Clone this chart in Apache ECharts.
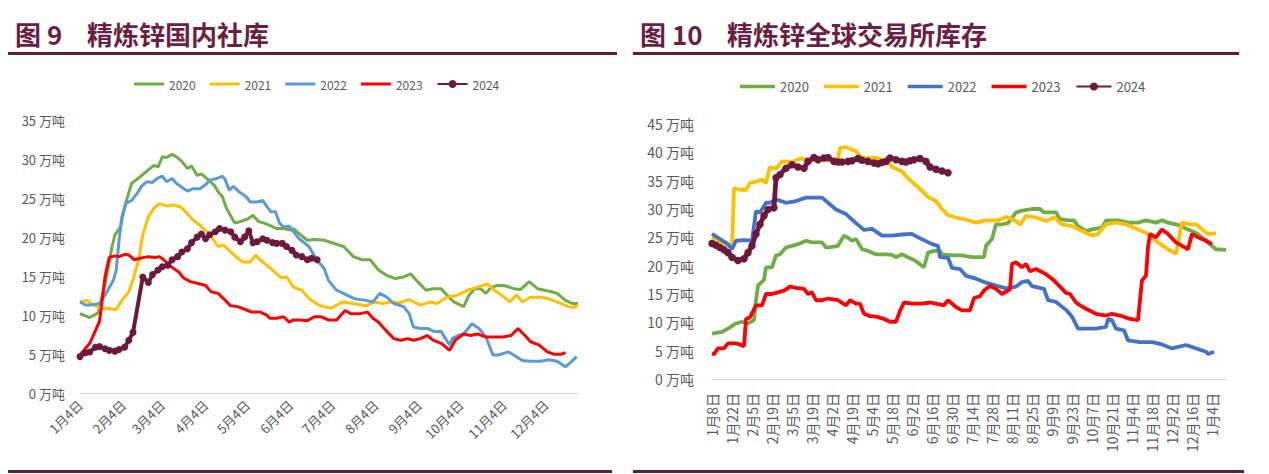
<!DOCTYPE html>
<html>
<head>
<meta charset="utf-8">
<script src="https://cdn.jsdelivr.net/npm/echarts@6/dist/echarts.min.js"></script>
<style>
html,body{margin:0;padding:0;background:#fff;}
#c1{position:absolute;left:0;top:0;width:632px;height:474px;}
#c2{position:absolute;left:632px;top:0;width:637px;height:474px;}
</style>
</head>
<body>
<div id="c1"></div>
<div id="c2"></div>
<script>
// ---------- Figure 9: domestic social inventory (万吨), x = days after 1月4日 ----------
const socTickLabels = ['1月4日','2月4日','3月4日','4月4日','5月4日','6月4日','7月4日','8月4日','9月4日','10月4日','11月4日','12月4日'];
const socLastDay = 357; // 12月27日
const soc2020 = [[0,10.2],[7,9.7],[13,10.3],[19,14.9],[23,18.8],[25,20.3],[29,21.3],[32,23.9],[37,26.9],[43,27.7],[49,28.6],[53,29.2],[56,29.0],[59,30.3],[62,30.2],[66,30.6],[69,30.3],[73,29.7],[77,28.8],[80,29.1],[84,27.9],[87,28.1],[91,27.5],[96,26.7],[99,25.8],[102,25.2],[105,23.7],[109,22.4],[111,21.8],[115,22.0],[120,22.3],[124,22.8],[128,22.0],[132,21.8],[136,21.5],[141,21.1],[146,21.1],[151,20.9],[153,21.1],[158,20.3],[163,19.6],[168,19.7],[175,19.6],[182,19.2],[189,18.8],[196,17.5],[202,17.1],[208,17.1],[214,15.8],[220,15.1],[226,14.7],[232,14.9],[237,15.3],[242,14.3],[248,13.2],[253,13.4],[259,13.4],[263,12.6],[268,11.7],[275,11.1],[279,12.6],[283,13.4],[287,13.4],[291,12.8],[295,13.6],[299,13.8],[304,13.8],[311,13.4],[316,13.3],[322,14.3],[328,13.4],[333,13.2],[338,13.0],[342,12.8],[348,11.9],[353,11.5],[357,11.5]];
const soc2021 = [[0,11.7],[5,11.9],[8,11.5],[14,10.9],[19,10.9],[26,10.7],[30,11.9],[35,13.0],[38,14.5],[42,17.1],[45,20.3],[49,22.6],[53,23.7],[57,24.3],[62,24.0],[67,24.1],[72,23.9],[77,23.0],[81,22.2],[86,21.5],[91,20.7],[96,19.6],[99,18.8],[103,19.0],[108,18.1],[113,17.3],[117,16.8],[122,16.8],[126,17.7],[129,17.1],[134,16.4],[139,15.6],[144,14.8],[148,14.9],[153,13.6],[159,13.2],[165,12.0],[172,11.2],[180,10.9],[188,11.7],[196,11.5],[205,11.2],[211,11.7],[217,11.5],[223,11.7],[229,11.6],[236,12.0],[244,11.3],[251,11.7],[256,11.5],[263,12.3],[271,12.6],[278,13.2],[285,13.6],[292,14.0],[297,13.2],[302,12.6],[308,11.7],[313,12.6],[317,11.7],[323,12.3],[330,12.3],[336,12.1],[342,11.7],[350,11.1],[354,11.0],[357,11.3]];
const soc2022 = [[0,11.7],[4,11.3],[8,11.3],[14,11.5],[18,12.6],[24,14.5],[26,15.8],[28,19.6],[30,22.6],[33,24.3],[37,24.7],[41,25.6],[44,26.5],[48,27.1],[52,27.0],[55,27.5],[59,27.8],[62,27.1],[66,27.5],[69,26.9],[73,26.4],[77,25.9],[81,26.2],[86,26.2],[90,26.7],[93,27.3],[98,27.5],[102,27.8],[104,27.4],[107,26.0],[110,26.5],[114,25.8],[119,25.2],[122,24.5],[127,24.5],[131,24.7],[134,23.9],[137,23.2],[140,23.3],[143,21.8],[146,21.3],[150,21.4],[153,20.7],[157,19.8],[160,19.4],[164,18.8],[168,17.6],[170,17.0],[175,16.0],[178,14.5],[182,13.6],[184,13.2],[191,12.6],[197,12.1],[205,11.9],[210,11.7],[215,12.8],[220,12.3],[225,11.5],[232,11.1],[236,10.2],[239,8.5],[244,8.3],[249,8.3],[254,7.9],[259,7.9],[262,7.0],[265,6.2],[267,7.0],[271,7.4],[275,7.6],[281,8.9],[286,8.3],[291,7.2],[296,4.9],[300,4.9],[307,5.3],[311,4.9],[317,4.2],[323,4.1],[330,4.1],[336,4.3],[342,4.1],[348,3.4],[352,4.0],[356,4.7]];
const soc2023 = [[0,4.9],[7,6.4],[14,9.2],[18,15.0],[21,17.4],[25,17.6],[28,17.5],[32,17.8],[35,17.7],[39,17.1],[43,17.3],[49,17.5],[54,17.4],[57,17.5],[60,17.1],[64,16.4],[67,16.0],[71,15.5],[74,14.8],[79,14.3],[84,14.1],[90,13.8],[94,13.0],[99,12.8],[103,12.1],[108,11.2],[113,11.1],[119,10.7],[123,10.4],[129,10.4],[134,10.0],[136,9.6],[141,9.6],[146,9.8],[150,9.1],[153,9.4],[158,9.4],[163,9.3],[168,9.8],[173,9.8],[178,9.4],[184,9.4],[190,10.6],[194,10.2],[201,10.2],[206,10.4],[210,9.6],[214,9.1],[220,7.9],[225,7.0],[230,6.8],[235,7.0],[239,6.8],[244,7.0],[249,7.4],[253,6.8],[259,6.4],[265,5.5],[269,6.8],[275,7.6],[280,7.4],[285,7.6],[291,7.2],[297,7.2],[303,7.2],[309,7.4],[314,8.3],[319,7.4],[323,6.6],[329,6.2],[335,5.3],[340,5.0],[345,5.0],[348,5.2]];
const soc2024 = [[0,4.7],[4,5.2],[7,5.3],[11,5.9],[14,6.0],[18,5.7],[21,5.5],[25,5.4],[28,5.6],[32,5.9],[35,6.8],[38,7.8],[45,14.9],[49,14.2],[52,15.2],[56,15.8],[59,16.2],[63,16.4],[66,17.1],[70,17.5],[73,18.1],[77,18.5],[80,19.3],[84,20.0],[87,20.4],[90,19.8],[93,20.3],[97,20.7],[100,21.1],[104,20.9],[108,20.7],[111,20.0],[115,19.4],[118,20.0],[121,20.8],[124,19.3],[127,19.4],[131,19.8],[134,19.6],[138,19.3],[141,19.2],[145,19.2],[148,18.8],[152,18.3],[155,17.7],[159,17.5],[163,17.1],[166,17.3],[170,17.1]];

// ---------- Figure 10: global exchange inventory (万吨), x = trading-day index ----------
const lmeTickLabels = ['1月8日','1月22日','2月5日','2月19日','3月5日','3月19日','4月2日','4月19日','5月4日','5月18日','6月2日','6月16日','6月30日','7月14日','7月28日','8月11日','8月25日','9月9日','9月23日','10月7日','10月21日','11月4日','11月18日','12月2日','12月16日','1月4日'];
const lmeTickStep = 10;
const lmeLastIndex = 257;
const lme2020 = [[0,8.0],[5,8.3],[8,8.9],[12,9.8],[15,10.1],[18,9.8],[21,10.4],[22,13.9],[23,16.5],[26,17.5],[27,19.7],[30,19.7],[32,21.8],[34,22.0],[37,23.2],[40,23.5],[43,23.8],[47,24.4],[50,24.1],[55,24.1],[57,23.2],[60,23.3],[63,23.5],[66,25.3],[68,24.9],[70,24.4],[72,24.7],[75,22.9],[78,22.6],[82,22.0],[87,22.0],[90,21.9],[92,21.5],[95,22.0],[98,21.5],[102,20.8],[105,20.0],[106,19.7],[108,22.3],[111,22.6],[114,22.6],[115,22.0],[120,21.8],[125,21.8],[130,21.5],[136,21.5],[137,23.5],[140,24.7],[142,27.3],[145,27.3],[148,27.5],[152,29.4],[155,29.7],[160,30.0],[164,30.0],[166,29.4],[172,29.4],[174,28.2],[178,28.0],[181,28.0],[183,27.0],[187,26.1],[190,26.4],[195,26.7],[197,28.0],[203,28.0],[208,27.6],[213,27.6],[217,28.0],[222,27.6],[225,28.0],[228,27.6],[233,27.2],[238,26.4],[242,25.8],[245,25.0],[248,24.1],[252,22.9],[257,22.8]];
const lme2021 = [[0,25.0],[4,24.3],[8,23.6],[10,23.3],[11,33.7],[14,33.4],[17,33.4],[19,34.6],[22,34.8],[25,35.2],[27,34.6],[29,37.4],[32,37.1],[35,38.4],[40,38.3],[44,38.9],[50,38.6],[55,38.6],[60,38.7],[63,38.8],[64,40.8],[67,40.9],[72,40.2],[75,39.0],[82,39.0],[88,38.4],[90,37.4],[95,36.6],[98,35.4],[102,34.2],[105,33.2],[108,32.1],[112,31.4],[115,30.0],[118,28.9],[122,28.5],[127,28.1],[132,27.6],[137,28.0],[143,28.0],[147,28.6],[152,27.9],[154,27.2],[157,28.8],[162,28.5],[167,27.9],[171,28.5],[175,27.3],[180,27.0],[185,26.1],[190,25.3],[193,25.6],[197,27.3],[202,27.6],[207,27.3],[213,26.4],[218,25.6],[223,24.1],[228,22.9],[232,22.1],[235,27.6],[239,27.3],[242,27.3],[245,26.4],[248,25.6],[252,25.7]];
const lme2022 = [[0,25.6],[4,24.7],[8,23.8],[10,22.9],[12,24.4],[16,24.5],[20,24.4],[22,29.6],[24,29.4],[27,31.1],[29,31.1],[32,31.7],[37,31.1],[42,31.4],[47,32.0],[55,32.0],[58,31.1],[62,29.9],[67,29.1],[72,27.5],[76,26.3],[80,26.5],[85,25.3],[90,25.3],[95,25.5],[100,25.6],[103,25.0],[106,24.5],[110,23.8],[113,23.5],[114,21.5],[118,21.4],[120,19.6],[124,19.4],[127,18.2],[132,17.7],[137,17.0],[142,16.5],[147,16.0],[152,16.3],[155,17.1],[158,17.3],[160,16.4],[166,15.9],[168,13.9],[172,13.6],[177,12.2],[180,11.0],[183,8.9],[187,8.9],[192,8.9],[197,9.2],[198,10.6],[200,10.4],[202,8.9],[206,8.6],[208,6.8],[214,6.5],[220,6.5],[225,6.1],[230,5.4],[237,6.0],[242,5.4],[247,4.8],[248,4.4],[251,4.8]];
const lme2023 = [[0,4.5],[1,4.4],[3,5.4],[6,5.4],[8,6.3],[12,6.3],[16,5.8],[17,10.6],[19,10.9],[22,13.0],[25,13.0],[27,15.0],[30,15.0],[33,15.3],[36,15.6],[39,16.3],[42,16.1],[46,15.9],[48,15.0],[50,15.3],[52,13.9],[55,13.9],[58,14.2],[63,13.9],[67,13.0],[69,13.9],[72,13.3],[74,13.3],[76,11.5],[79,11.1],[82,11.0],[86,10.6],[89,10.1],[92,10.1],[94,12.0],[96,13.5],[100,13.3],[105,13.3],[109,13.5],[112,13.3],[116,13.0],[118,13.9],[122,12.7],[125,12.1],[129,12.1],[131,14.3],[134,14.6],[136,15.6],[139,16.4],[142,15.9],[145,15.0],[149,15.8],[150,20.3],[152,20.6],[155,19.7],[157,20.3],[159,19.0],[162,19.4],[167,18.5],[170,17.7],[174,16.3],[177,15.2],[179,15.0],[182,13.5],[184,13.0],[187,12.4],[192,11.5],[197,11.2],[200,11.5],[204,11.2],[209,10.6],[213,10.4],[215,17.4],[217,18.2],[218,23.2],[219,25.6],[222,25.0],[225,26.4],[228,25.6],[232,24.1],[235,23.5],[238,22.9],[240,25.6],[243,25.0],[247,24.4],[250,23.8]];
const lme2024 = [[0,23.9],[2,23.6],[4,23.2],[6,22.8],[8,22.3],[10,21.5],[13,20.9],[16,21.2],[18,22.3],[20,23.5],[22,25.6],[24,27.3],[26,28.8],[28,29.9],[31,30.2],[32,35.5],[34,36.1],[37,37.2],[40,37.8],[43,37.4],[46,37.2],[48,38.4],[51,39.1],[53,38.7],[56,39.0],[58,39.1],[61,38.4],[63,38.3],[65,38.3],[68,38.4],[70,38.5],[73,38.9],[75,38.6],[78,38.4],[81,38.1],[83,38.0],[85,38.2],[87,38.4],[89,39.0],[92,38.7],[95,38.4],[97,38.3],[99,38.5],[101,38.7],[104,38.9],[107,38.4],[109,37.4],[112,37.0],[115,36.7],[118,36.4]];

const years = ['2020','2021','2022','2023','2024'];
const FONT = '"Noto Sans CJK SC", "Noto Sans", sans-serif';
const TXT = '#595959';
const WINE = '#6A1F43';
const RULE = '#5B1E3D';

function dayOfYearOffset(label) {
  const m = parseInt(label, 10) - 1;
  const d = parseInt(label.split('月')[1], 10);
  return Math.round((Date.UTC(2023, m, d) - Date.UTC(2023, 0, 4)) / 864e5);
}
const socTickDays = socTickLabels.map(dayOfYearOffset);

function header(num, name, nameLeft, ruleWidth, bottomWidth, xStart) {
  return {
    title: [
      {text: num, left: xStart + 7, top: 20, padding: 0, textStyle: {fontFamily: FONT, fontWeight: 'bold', fontSize: 26, color: WINE}},
      {text: name, left: nameLeft, top: 20, padding: 0, textStyle: {fontFamily: FONT, fontWeight: 'bold', fontSize: 26, color: WINE}}
    ],
    graphic: [
      {type: 'rect', silent: true, shape: {x: xStart, y: 52, width: ruleWidth, height: 3}, style: {fill: RULE}},
      {type: 'rect', silent: true, shape: {x: xStart, y: 470, width: bottomWidth, height: 3}, style: {fill: RULE}}
    ]
  };
}

function legendItems(w, h) {
  // plain line icons for 2020-2023, line + dot for 2024 (inherits from series)
  return years.map((y, k) => k === 4 ? {name: y} : {name: y, icon: 'path://M0 0H' + w + 'V' + h + 'H0Z'});
}

function makeSeries(datas, colors, width, markerSize) {
  return datas.map((d, k) => {
    const isMark = k === 4;
    return {
      name: years[k], type: 'line', data: d,
      symbol: isMark ? 'circle' : 'none',
      symbolSize: markerSize, showSymbol: isMark,
      lineStyle: {width: isMark ? width + 1 : width, color: colors[k]},
      itemStyle: {color: colors[k]},
      animation: false, z: 2 + k
    };
  });
}

// ---- left chart ----
const c1 = echarts.init(document.getElementById('c1'), null, {renderer: 'svg'});
const h1 = header('图 9', '精炼锌国内社库', 87, 609, 604, 8);
const colors1 = ['#70AD47', '#FFC000', '#5B9BD5', '#FF0000', '#6B1A3E'];
c1.setOption({
  animation: false,
  title: h1.title,
  graphic: h1.graphic,
  legend: {
    data: legendItems(30, 3), left: 129, top: 73, itemWidth: 30, itemHeight: 10, itemGap: 14,
    textStyle: {fontFamily: FONT, fontSize: 12, color: TXT}
  },
  grid: {left: 80, top: 120, width: 498, height: 273.3, containLabel: false},
  xAxis: {
    type: 'value', min: 0, max: socLastDay,
    axisLine: {show: true, lineStyle: {color: '#D9D9D9', width: 1}},
    axisTick: {show: false},
    splitLine: {show: false},
    axisLabel: {
      customValues: socTickDays, rotate: 45, margin: 9,
      fontFamily: FONT, fontSize: 13, color: TXT,
      formatter: v => socTickLabels[socTickDays.indexOf(Math.round(v))] || ''
    }
  },
  yAxis: {
    type: 'value', min: 0, max: 35, interval: 5,
    axisLine: {show: false}, axisTick: {show: false}, splitLine: {show: false},
    axisLabel: {formatter: '{value} 万吨', margin: 15, fontFamily: FONT, fontSize: 13, color: TXT}
  },
  series: makeSeries([soc2020, soc2021, soc2022, soc2023, soc2024], colors1, 3, 7)
});

// ---- right chart ----
const c2 = echarts.init(document.getElementById('c2'), null, {renderer: 'svg'});
const h2 = header('图 10', '精炼锌全球交易所库存', 95, 606, 611, 1);
const colors2 = ['#70AD47', '#FFC000', '#4472C4', '#FF0000', '#6B1A3E'];
const lmeTickIdx = lmeTickLabels.map((_, k) => k * lmeTickStep);
c2.setOption({
  animation: false,
  title: h2.title,
  graphic: h2.graphic,
  legend: {
    data: legendItems(35, 3.5), left: 103, top: 75, itemWidth: 35, itemHeight: 10, itemGap: 15,
    textStyle: {fontFamily: FONT, fontSize: 13, color: TXT}
  },
  grid: {left: 80, top: 124, width: 514, height: 255, containLabel: false},
  xAxis: {
    type: 'value', min: 0, max: lmeLastIndex,
    axisLine: {show: true, lineStyle: {color: '#D9D9D9', width: 1}},
    axisTick: {show: false},
    splitLine: {show: false},
    axisLabel: {
      customValues: lmeTickIdx, rotate: 90, margin: 14,
      fontFamily: FONT, fontSize: 14, color: TXT,
      formatter: v => lmeTickLabels[Math.round(v / lmeTickStep)] || ''
    }
  },
  yAxis: {
    type: 'value', min: 0, max: 45, interval: 5,
    axisLine: {show: false}, axisTick: {show: false}, splitLine: {show: false},
    axisLabel: {formatter: '{value} 万吨', margin: 18, fontFamily: FONT, fontSize: 14, color: TXT}
  },
  series: makeSeries([lme2020, lme2021, lme2022, lme2023, lme2024], colors2, 3.8, 7.5)
});
</script>
</body>
</html>
